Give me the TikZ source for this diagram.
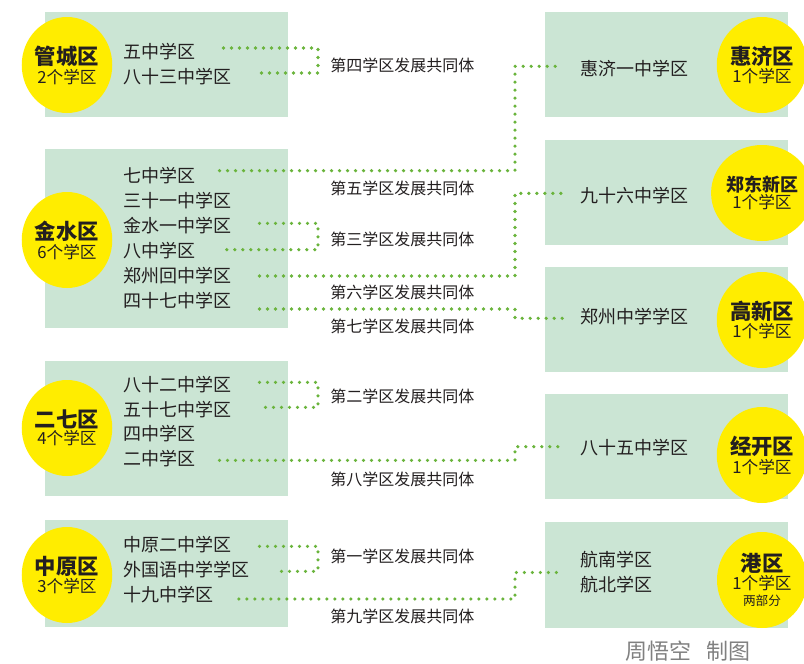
\documentclass[tikz,border=0pt]{standalone}
\usepackage{fontspec}
\setmainfont{Noto Sans CJK SC}
\usetikzlibrary{shapes.geometric, calc}
\definecolor{boxgreen}{HTML}{CBE5D4}
\definecolor{sunyellow}{HTML}{FFED00}
\definecolor{dotgreen}{HTML}{6AB43C}
\definecolor{inkgray}{HTML}{231F20}
\newcommand{\namefont}{\fontsize{16}{17}\selectfont\bfseries}
\newcommand{\subfont}{\fontsize{12.5}{13}\selectfont}
\tikzset{
  school/.style={anchor=west, inner sep=0pt, font=\fontsize{13.5}{14}\selectfont, text=inkgray},
  group/.style={anchor=west, inner sep=0pt, font=\fontsize{12}{13}\selectfont, text=inkgray},
  zone/.style={ellipse, fill=sunyellow, minimum width=67.5pt, minimum height=72pt, inner sep=0pt, align=center, text=inkgray},
  link/.style={dotgreen, line width=2.7pt, line cap=round, dash pattern=on 0pt off 6pt},
  panel/.style={fill=boxgreen},
}

\begin{document}
\begin{tikzpicture}[x=0.75pt, y=-0.75pt]
    \useasboundingbox (0,0) rectangle (804,664);

    % panels
    \fill[panel] (45,12) rectangle (288,117);
    \fill[panel] (45,149) rectangle (288,328);
    \fill[panel] (45,361) rectangle (288,496);
    \fill[panel] (45,520) rectangle (288,627);
    \fill[panel] (545,12) rectangle (788,117);
    \fill[panel] (545,140) rectangle (788,245);
    \fill[panel] (545,267) rectangle (788,372);
    \fill[panel] (545,394) rectangle (788,499);
    \fill[panel] (545,522) rectangle (788,628);

    % districts
    \node[zone] (gc) at (67,65) {{\namefont 管城区}\\[1pt]{\subfont 2个学区}};
    \node[zone] (js) at (67,240) {{\namefont 金水区}\\[1pt]{\subfont 6个学区}};
    \node[zone] (eq) at (67,428) {{\namefont 二七区}\\[1pt]{\subfont 4个学区}};
    \node[zone] (zy) at (67,575) {{\namefont 中原区}\\[1pt]{\subfont 3个学区}};
    \node[zone] (hj) at (762,65) {{\namefont 惠济区}\\[1pt]{\subfont 1个学区}};
    \node[zone] (zd) at (762,193) {{\fontsize{13.5}{15}\selectfont\bfseries 郑东新区}\\[1pt]{\subfont 1个学区}};
    \node[zone] (gx) at (762,320) {{\namefont 高新区}\\[1pt]{\subfont 1个学区}};
    \node[zone] (jk) at (762,455) {{\namefont 经开区}\\[1pt]{\subfont 1个学区}};
    \node[zone] (gq) at (762,580) {{\namefont 港区}\\{\subfont 1个学区}\\{\fontsize{9.5}{11}\selectfont 两部分}};

    % schools, left
    \node[school] (s5) at (123,52) {五中学区};
    \node[school] (s83) at (123,77) {八十三中学区};
    \node[school] (s7) at (123,176) {七中学区};
    \node[school] (s31) at (123,201) {三十一中学区};
    \node[school] (sjs) at (123,226) {金水一中学区};
    \node[school] (s8) at (123,251) {八中学区};
    \node[school] (szh) at (123,276) {郑州回中学区};
    \node[school] (s47) at (123,301) {四十七中学区};
    \node[school] (s82) at (123,385) {八十二中学区};
    \node[school] (s57) at (123,410) {五十七中学区};
    \node[school] (s4) at (123,434) {四中学区};
    \node[school] (s2) at (123,459) {二中学区};
    \node[school] (szy) at (123,545) {中原二中学区};
    \node[school] (swg) at (123,570) {外国语中学学区};
    \node[school] (s19) at (123,595) {十九中学区};

    % schools, right
    \node[school] (shj) at (580,69) {惠济一中学区};
    \node[school] (s96) at (580,196) {九十六中学区};
    \node[school] (szz) at (580,317) {郑州中学学区};
    \node[school] (s85) at (580,448) {八十五中学区};
    \node[school] (shn) at (580,560) {航南学区};
    \node[school] (shb) at (580,585) {航北学区};

    % communities
    \node[group] (g4) at (330,65) {第四学区发展共同体};
    \node[group] (g5) at (330,188) {第五学区发展共同体};
    \node[group] (g3) at (330,239) {第三学区发展共同体};
    \node[group] (g6) at (330,292) {第六学区发展共同体};
    \node[group] (g7) at (330,326) {第七学区发展共同体};
    \node[group] (g2) at (330,396) {第二学区发展共同体};
    \node[group] (g8) at (330,479) {第八学区发展共同体};
    \node[group] (g1) at (330,556) {第一学区发展共同体};
    \node[group] (g9) at (330,616) {第九学区发展共同体};

    \coordinate (q1) at (318,0);
    \coordinate (q2) at (515,0);

    % dotted links
    \draw[link] ([xshift=21pt,yshift=3pt]s5.east) -| ([yshift=3pt]q1 |- s83.east) -- ([xshift=21pt,yshift=3pt]s83.east);
    \draw[link] ([xshift=18pt,yshift=4pt]s7.east) -| ([yshift=2pt]q2 |- shj.west) -- ([xshift=-13pt,yshift=2pt]shj.west);
    \draw[link] ([xshift=21pt,yshift=2pt]sjs.east) -| ([yshift=1pt]q1 |- s8.east) -- ([xshift=21pt,yshift=1pt]s8.east);
    \draw[link] ([xshift=21pt,yshift=0pt]szh.east) -| ([yshift=2pt]q2 |- s96.west) -- ([xshift=-13pt,yshift=2pt]s96.west);
    \draw[link] ([xshift=21pt,yshift=-6pt]s47.east) -| ([yshift=-1pt]q2 |- szz.west) -- ([xshift=-13pt,yshift=-1pt]szz.west);
    \draw[link] ([xshift=21pt,yshift=2pt]s82.east) -| ([yshift=2pt]q1 |- s57.east) -- ([xshift=21pt,yshift=2pt]s57.east);
    \draw[link] ([xshift=18pt,yshift=-1pt]s2.east) -| ([yshift=1pt]q2 |- s85.west) -- ([xshift=-13pt,yshift=1pt]s85.west);
    \draw[link] ([xshift=21pt,yshift=-1pt]szy.east) -| ([yshift=-1pt]q1 |- swg.east) -- ([xshift=21pt,yshift=-1pt]swg.east);
    \draw[link] ([xshift=19pt,yshift=-3pt]s19.east) -| ($(q2 |- shn.west)!0.5!(q2 |- shb.west)$) -- ([xshift=-13pt]$(shn.west)!0.5!(shb.west)$);

    \node[anchor=west, inner sep=0pt, text=black!50, font=\fontsize{16.5}{18}\selectfont] (credit) at (625,651) {周悟空\hspace{0.7em}制图};
\end{tikzpicture}
\end{document}
